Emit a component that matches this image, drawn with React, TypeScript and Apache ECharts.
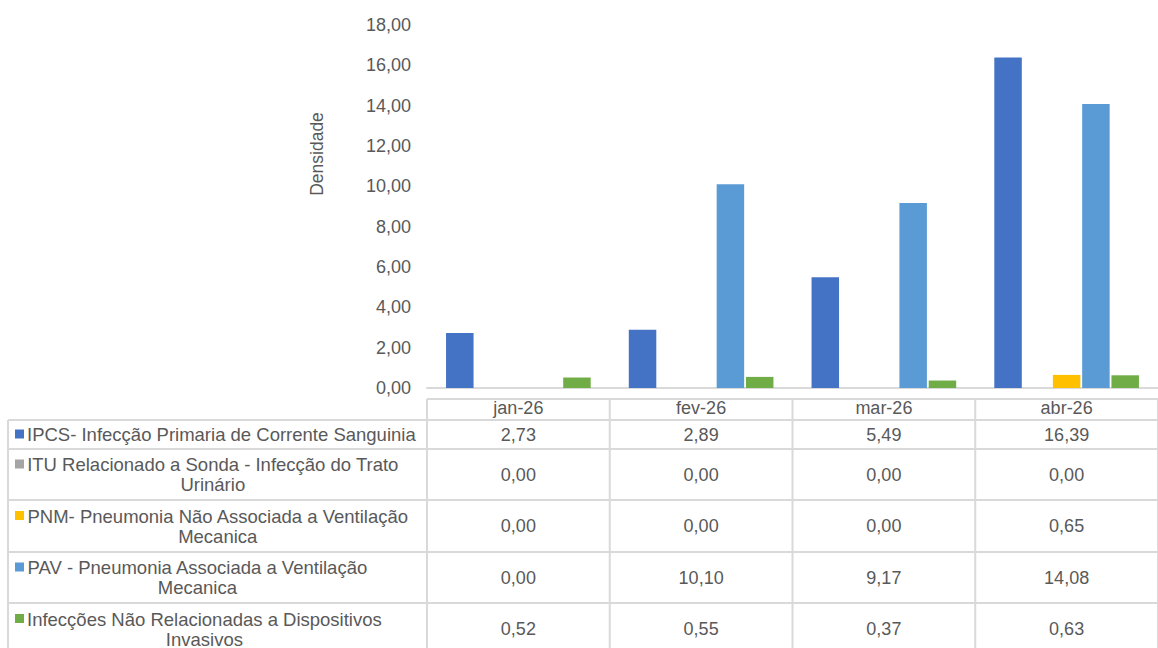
import React, { useEffect, useRef } from "react";
import * as echarts from "echarts";

const categories = ["jan-26", "fev-26", "mar-26", "abr-26"];
const seriesNames = [
  "IPCS- Infecção Primaria de Corrente Sanguinia",
  "ITU Relacionado a Sonda - Infecção do Trato Urinário",
  "PNM- Pneumonia Não Associada a Ventilação Mecanica",
  "PAV - Pneumonia Associada a Ventilação Mecanica",
  "Infecções Não Relacionadas a Dispositivos Invasivos",
];
const tableLabelLines = [
  ["IPCS- Infecção Primaria de Corrente Sanguinia"],
  ["ITU Relacionado a Sonda - Infecção do Trato", "Urinário"],
  ["PNM- Pneumonia Não Associada a Ventilação", "Mecanica"],
  ["PAV - Pneumonia Associada a Ventilação", "Mecanica"],
  ["Infecções Não Relacionadas a Dispositivos", "Invasivos"],
];
const seriesColors = ["#4472C4", "#A5A5A5", "#FFC000", "#5B9BD5", "#70AD47"];
const ipcsValues = [2.73, 2.89, 5.49, 16.39];
const ituValues = [0.0, 0.0, 0.0, 0.0];
const pnmValues = [0.0, 0.0, 0.0, 0.65];
const pavValues = [0.0, 10.1, 9.17, 14.08];
const naoDispValues = [0.52, 0.55, 0.37, 0.63];
const allValues = [ipcsValues, ituValues, pnmValues, pavValues, naoDispValues];
const yMin = 0;
const yMax = 18;
const yInterval = 2;
const yAxisTitle = "Densidade";

const FONT = "'Liberation Sans', Arial, sans-serif";
const TEXT = "#595959";
const LINE = "#d9d9d9";
const FS = 18;
const FS_LABEL = 18.5;

const fmt = (v: number) => v.toFixed(2).replace(".", ",");

export default function App() {
  const ref = useRef<HTMLDivElement>(null);

  useEffect(() => {
    if (!ref.current) return;
    const chart = echarts.init(ref.current, null, { renderer: "svg" });

    const option: any = {
      animation: false,
      backgroundColor: "#ffffff",
      grid: { left: 427, right: -16, top: 25, bottom: 260, containLabel: false },
      xAxis: {
        type: "category",
        data: categories,
        axisLine: { show: true, lineStyle: { color: LINE, width: 2 } },
        axisTick: { show: false },
        axisLabel: {
          color: TEXT,
          fontFamily: FONT,
          fontSize: FS,
          margin: 10,
          lineHeight: 20,
        },
      },
      yAxis: {
        type: "value",
        min: yMin,
        max: yMax,
        interval: yInterval,
        axisLine: { show: false },
        axisTick: { show: false },
        splitLine: { show: false },
        axisLabel: {
          color: TEXT,
          fontFamily: FONT,
          fontSize: FS,
          margin: 16,
          formatter: (v: number) => fmt(v),
        },
      },
      series: seriesNames.map((name, i) => ({
        name,
        type: "bar",
        data: allValues[i],
        barWidth: 27.5,
        barGap: "6.5%",
        itemStyle: { color: seriesColors[i] },
      })),
    };
    chart.setOption(option);

    // Build the data table from the arrays using the axis scale
    const centers = categories.map((c) => chart.convertToPixel({ xAxisIndex: 0 }, c) as number);
    const half = centers.length > 1 ? (centers[1] - centers[0]) / 2 : 90;
    const colEdges = [centers[0] - half, ...centers.map((c) => c + half)];
    const tableLeft = 8;
    const headerTop = 399;
    const rowEdges = [420, 449, 500, 552, 603, 655];
    const markerX = 15;
    const markerSize = 9;
    const textLeft = 27;
    const lineH = 20;

    const measure = document.createElement("canvas").getContext("2d");
    const textWidth = (s: string) => {
      if (!measure) return s.length * 9;
      measure.font = `${FS_LABEL}px ${FONT}`;
      return measure.measureText(s).width;
    };

    const graphics: any[] = [];
    graphics.push({
      type: "line",
      shape: { x1: colEdges[0], y1: headerTop, x2: colEdges[colEdges.length - 1], y2: headerTop },
      style: { stroke: LINE, lineWidth: 2 },
    });
    rowEdges.forEach((y) => {
      graphics.push({
        type: "line",
        shape: { x1: tableLeft, y1: y, x2: colEdges[colEdges.length - 1], y2: y },
        style: { stroke: LINE, lineWidth: 2 },
      });
    });
    graphics.push({
      type: "line",
      shape: { x1: tableLeft, y1: rowEdges[0], x2: tableLeft, y2: rowEdges[rowEdges.length - 1] },
      style: { stroke: LINE, lineWidth: 2 },
    });
    colEdges.forEach((x) => {
      graphics.push({
        type: "line",
        shape: { x1: x, y1: headerTop, x2: x, y2: rowEdges[rowEdges.length - 1] },
        style: { stroke: LINE, lineWidth: 2 },
      });
    });

    seriesNames.forEach((name, i) => {
      const yMid = (rowEdges[i] + rowEdges[i + 1]) / 2;
      const lines = tableLabelLines[i];
      const blockW = Math.max(...lines.map(textWidth));
      const firstLineY = yMid - ((lines.length - 1) * lineH) / 2;
      graphics.push({
        type: "rect",
        shape: { x: markerX, y: firstLineY - markerSize / 2 - 0.5, width: markerSize, height: markerSize },
        style: { fill: seriesColors[i] },
      });
      graphics.push({
        type: "text",
        x: textLeft + blockW / 2,
        y: yMid,
        style: {
          text: lines.join("\n"),
          align: "center",
          verticalAlign: "middle",
          fontSize: FS_LABEL,
          fontFamily: FONT,
          lineHeight: lineH,
          fill: TEXT,
        },
      });
      allValues[i].forEach((v, j) => {
        graphics.push({
          type: "text",
          x: centers[j],
          y: yMid,
          style: {
            text: fmt(v),
            align: "center",
            verticalAlign: "middle",
            fontSize: FS,
            fontFamily: FONT,
            fill: TEXT,
          },
        });
      });
    });

    graphics.push({
      type: "text",
      x: 317,
      y: 154,
      rotation: Math.PI / 2,
      style: {
        text: yAxisTitle,
        align: "center",
        verticalAlign: "middle",
        fontSize: 17.5,
        fontFamily: FONT,
        fill: TEXT,
      },
    });

    chart.setOption({ graphic: graphics });

    return () => chart.dispose();
  }, []);

  return (
    <div
      ref={ref}
      style={{ position: "fixed", left: 0, top: 0, width: 1158, height: 648, background: "#fff" }}
    />
  );
}
